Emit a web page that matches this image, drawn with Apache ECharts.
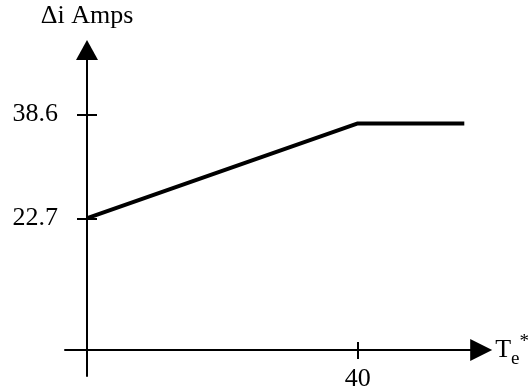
<!DOCTYPE html>
<html>
<head>
<meta charset="utf-8">
<script src="https://cdn.jsdelivr.net/npm/echarts@6/dist/echarts.min.js"></script>
<style>html,body{margin:0;padding:0;background:#fff}#c{width:532px;height:392px}</style>
</head>
<body>
<div id="c"></div>
<script>
// data
var xValues = [0, 40, 55.7];
var yValues = [22.7, 37.2, 37.2];
var yTickValues = [22.7, 38.6];
var xTickValues = [40];
var yName = 'Δi Amps';

var FONT = '"Liberation Serif", "Times New Roman", serif';
var FS = 26;
var X_MIN = -3.177, X_MAX = 58.19;
var Y_MIN = -1.41, Y_MAX = 48.43;

var chart = echarts.init(document.getElementById('c'), null, {renderer: 'canvas'});
var seriesData = xValues.map(function (x, i) { return [x, yValues[i]]; });

var tickLine = {color: '#000', width: 2};
chart.setOption({
  animation: false,
  backgroundColor: '#fff',
  grid: {left: 65, right: 42, top: 50, bottom: 16, containLabel: false},
  xAxis: [{
    type: 'value', min: X_MIN, max: X_MAX, position: 'bottom', offset: -26,
    axisLine: {show: true, onZero: false, symbol: ['none', 'triangle'], symbolSize: [22, 22], lineStyle: {color: '#000', width: 2}},
    axisTick: {show: true, length: 9, inside: false, customValues: xTickValues, lineStyle: tickLine},
    axisLabel: {show: true, customValues: xTickValues, margin: 16, color: '#000', fontFamily: FONT, fontSize: FS},
    splitLine: {show: false},
    name: '{t|T}{sub|e}{sup|*}', nameLocation: 'end', nameGap: 14,
    nameTextStyle: {
      align: 'left', verticalAlign: 'middle', color: '#000', fontFamily: FONT, fontSize: FS,
      rich: {
        t: {fontFamily: FONT, fontSize: FS, color: '#000'},
        sub: {fontFamily: FONT, fontSize: 19, color: '#000', padding: [18, 0, 0, 0]},
        sup: {fontFamily: FONT, fontSize: 19, color: '#000', padding: [0, 0, 16, 0]}
      }
    }
  }, {
    type: 'value', min: X_MIN, max: X_MAX, position: 'bottom', offset: -26,
    axisLine: {show: false, onZero: false},
    axisTick: {show: true, length: 8, inside: true, customValues: xTickValues, lineStyle: tickLine},
    axisLabel: {show: false},
    splitLine: {show: false}
  }],
  yAxis: [{
    type: 'value', min: Y_MIN, max: Y_MAX, position: 'left', offset: -22,
    axisLine: {show: true, onZero: false, symbol: ['none', 'triangle'], symbolSize: [22, 20], lineStyle: {color: '#000', width: 2}},
    axisTick: {show: true, length: 10, inside: false, customValues: yTickValues, lineStyle: tickLine},
    axisLabel: {show: true, customValues: yTickValues, margin: 29, color: '#000', fontFamily: FONT, fontSize: FS,
      formatter: function (v) { return v.toFixed(1); }},
    splitLine: {show: false},
    name: yName, nameLocation: 'end', nameGap: 21,
    nameTextStyle: {color: '#000', fontFamily: FONT, fontSize: FS, align: 'center'}
  }, {
    type: 'value', min: Y_MIN, max: Y_MAX, position: 'left', offset: -22,
    axisLine: {show: false, onZero: false},
    axisTick: {show: true, length: 10, inside: true, customValues: yTickValues, lineStyle: tickLine},
    axisLabel: {show: false},
    splitLine: {show: false}
  }],
  series: [{
    type: 'line', xAxisIndex: 0, yAxisIndex: 0,
    data: seriesData, symbol: 'none',
    lineStyle: {color: '#000', width: 4}
  }]
});
</script>
</body>
</html>
